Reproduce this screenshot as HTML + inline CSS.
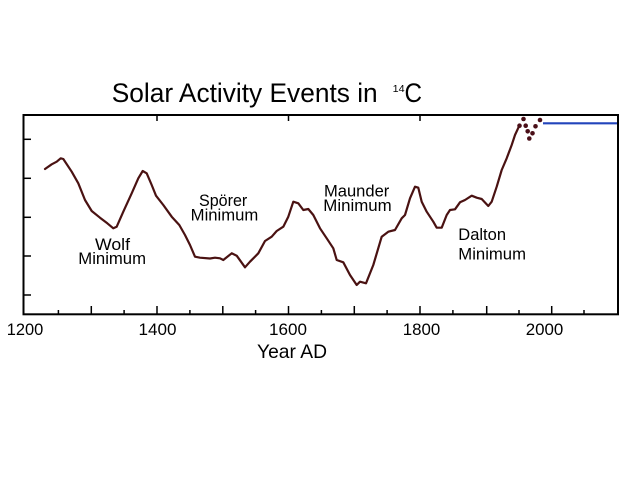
<!DOCTYPE html>
<html>
<head>
<meta charset="utf-8">
<style>
  html,body{margin:0;padding:0;background:#fff;}
  body{width:640px;height:484px;overflow:hidden;}
  svg{display:block;}
  text{font-family:"Liberation Sans",sans-serif;fill:#000;}
</style>
</head>
<body>
<svg width="640" height="484" viewBox="0 0 640 484" xmlns="http://www.w3.org/2000/svg">
  <rect width="640" height="484" fill="#fff"/>
  <!-- Title -->
  <text x="111.7" y="102" font-size="26.5" textLength="266" lengthAdjust="spacingAndGlyphs">Solar Activity Events in</text>
  <text x="392.7" y="92" font-size="10.5" textLength="12" lengthAdjust="spacingAndGlyphs">14</text>
  <text x="404.5" y="102" font-size="26.5" textLength="17.5" lengthAdjust="spacingAndGlyphs">C</text>

  <!-- Frame -->
  <rect x="23.5" y="115" width="594.5" height="199.3" fill="none" stroke="#000" stroke-width="2"/>

  <!-- Left ticks -->
  <g stroke="#000" stroke-width="1.5">
    <line x1="23" y1="139.3" x2="31" y2="139.3"/>
    <line x1="23" y1="178.3" x2="31" y2="178.3"/>
    <line x1="23" y1="217.3" x2="31" y2="217.3"/>
    <line x1="23" y1="256" x2="31" y2="256"/>
    <line x1="23" y1="295" x2="31" y2="295"/>
  </g>
  <!-- Top ticks -->
  <g stroke="#000" stroke-width="1.5">
    <line x1="157" y1="115" x2="157" y2="121"/>
    <line x1="288.5" y1="115" x2="288.5" y2="121"/>
    <line x1="420" y1="115" x2="420" y2="121"/>
  </g>
  <!-- Bottom ticks -->
  <g stroke="#000" stroke-width="1.5">
    <line x1="58.4" y1="314" x2="58.4" y2="310"/>
    <line x1="91.3" y1="314" x2="91.3" y2="306"/>
    <line x1="124.1" y1="314" x2="124.1" y2="310"/>
    <line x1="157" y1="314" x2="157" y2="306"/>
    <line x1="189.9" y1="314" x2="189.9" y2="310"/>
    <line x1="222.8" y1="314" x2="222.8" y2="306"/>
    <line x1="255.6" y1="314" x2="255.6" y2="310"/>
    <line x1="288.5" y1="314" x2="288.5" y2="306"/>
    <line x1="321.4" y1="314" x2="321.4" y2="310"/>
    <line x1="354.3" y1="314" x2="354.3" y2="306"/>
    <line x1="387.1" y1="314" x2="387.1" y2="310"/>
    <line x1="420" y1="314" x2="420" y2="306"/>
    <line x1="452.9" y1="314" x2="452.9" y2="310"/>
    <line x1="486.7" y1="314" x2="486.7" y2="306"/>
    <line x1="519" y1="314" x2="519" y2="310"/>
    <line x1="551.7" y1="314" x2="551.7" y2="306"/>
    <line x1="584" y1="314" x2="584" y2="310"/>
  </g>

  <!-- Tick labels -->
  <g font-size="17" text-anchor="middle">
    <text x="25" y="335" textLength="36.6" lengthAdjust="spacingAndGlyphs">1200</text>
    <text x="157.5" y="335" textLength="38" lengthAdjust="spacingAndGlyphs">1400</text>
    <text x="288" y="335" textLength="38" lengthAdjust="spacingAndGlyphs">1600</text>
    <text x="421.5" y="335" textLength="37.5" lengthAdjust="spacingAndGlyphs">1800</text>
    <text x="544.5" y="335" textLength="37.6" lengthAdjust="spacingAndGlyphs">2000</text>
  </g>
  <text x="292" y="358" font-size="19.5" text-anchor="middle" textLength="70" lengthAdjust="spacingAndGlyphs">Year AD</text>

  <!-- Curve -->
  <polyline fill="none" stroke="#4a1212" stroke-width="2.2" stroke-linejoin="round" stroke-linecap="round"
    points="45,169 51.7,164.3 56.7,161.7 60.7,158.3 63.3,159 71.7,171.7 78.3,183.3 85,200 91.7,211 100,217.7 107.3,223.3 113.3,228.3 116.7,226.7 123.3,211.7 131.7,193.3 138.3,178.3 142.7,171 146.7,173.3 151.7,185 156,195.7 163.3,205 171.7,216.7 179.3,225 185,235 190,245 195,256.7 200,257.7 210,258.5 215,257.7 220,258.3 223.3,260 231.7,253.3 236.7,255.7 245,267.3 250,261.7 258.3,253.3 265,241 271.7,236.7 276.7,231 283.3,226.7 288.3,216.7 293.3,201.7 298.3,203.3 303.3,210 308.3,209 313.3,215 320,228.3 326.7,238.3 333.3,248.3 336.7,260 343.3,262.3 350,275 356.7,285 360,281.7 366,283.3 373.3,265 381.7,236.7 388.3,231.7 395,230 401.7,218.3 405,215 410,198.3 415,186.7 418.3,187.7 421.7,201.7 426.7,211.7 433.3,221.7 436.7,227.7 441.7,227.7 446.7,215 450,210 455,209.3 460,202.3 465,200 471.7,195.7 476.7,197.7 481.7,199 488.3,206 491.7,201.7 496.7,186.7 501.7,170 506.7,158.3 511.7,145 515,135 519.3,125.7"/>

  <!-- Dots -->
  <g fill="#4a0f18">
    <circle cx="523.5" cy="119" r="2.3"/>
    <circle cx="519.5" cy="125.7" r="2.3"/>
    <circle cx="525.7" cy="125.7" r="2.3"/>
    <circle cx="527.7" cy="131.3" r="2.3"/>
    <circle cx="532.5" cy="133.3" r="2.3"/>
    <circle cx="529.3" cy="138.5" r="2.3"/>
    <circle cx="535.5" cy="126.3" r="2.3"/>
    <circle cx="540" cy="120" r="2.3"/>
  </g>

  <!-- Blue line -->
  <line x1="543" y1="123.3" x2="617" y2="123.3" stroke="#2244bb" stroke-width="2.2"/>

  <!-- Annotations -->
  <g font-size="16.5">
    <text x="95" y="250" textLength="35" lengthAdjust="spacingAndGlyphs">Wolf</text>
    <text x="78.3" y="264" textLength="67.7" lengthAdjust="spacingAndGlyphs">Minimum</text>
    <text x="199" y="206" textLength="48.3" lengthAdjust="spacingAndGlyphs">Spörer</text>
    <text x="190.7" y="220.5" textLength="67.6" lengthAdjust="spacingAndGlyphs">Minimum</text>
    <text x="324" y="196.5" textLength="65.3" lengthAdjust="spacingAndGlyphs">Maunder</text>
    <text x="323.3" y="211" textLength="68.4" lengthAdjust="spacingAndGlyphs">Minimum</text>
    <text x="458.3" y="240" textLength="47.7" lengthAdjust="spacingAndGlyphs">Dalton</text>
    <text x="458.3" y="259.5" textLength="67.7" lengthAdjust="spacingAndGlyphs">Minimum</text>
  </g>
</svg>
</body>
</html>
